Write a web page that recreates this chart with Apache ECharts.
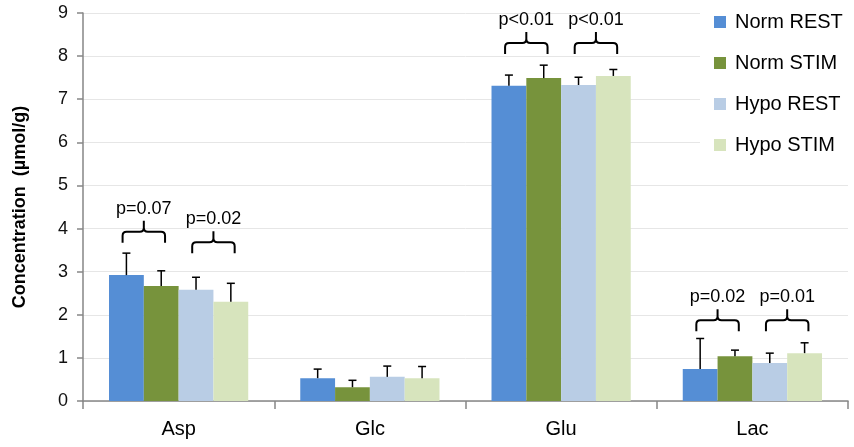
<!DOCTYPE html>
<html>
<head>
<meta charset="utf-8">
<script src="https://cdn.jsdelivr.net/npm/echarts@6/dist/echarts.min.js"></script>
<style>
html,body{margin:0;padding:0;background:#fff;}
#chart{width:854px;height:447px;}
</style>
</head>
<body>
<div id="chart"></div>
<script>
// ---- Data ----
const categories = ['Asp', 'Glc', 'Glu', 'Lac'];
const seriesNames = ['Norm REST', 'Norm STIM', 'Hypo REST', 'Hypo STIM'];
const normRest    = [2.92, 0.53, 7.31, 0.74];
const normRestErr = [0.51, 0.21, 0.25, 0.71];
const normStim    = [2.67, 0.32, 7.49, 1.04];
const normStimErr = [0.35, 0.16, 0.30, 0.14];
const hypoRest    = [2.58, 0.56, 7.33, 0.88];
const hypoRestErr = [0.29, 0.25, 0.18, 0.23];
const hypoStim    = [2.30, 0.53, 7.54, 1.11];
const hypoStimErr = [0.43, 0.27, 0.15, 0.24];
const yTicks = [0, 1, 2, 3, 4, 5, 6, 7, 8, 9];

// significance annotations
const braceCategory = [0, 0, 2, 2, 3, 3];
const bracePair     = [0, 1, 0, 1, 0, 1];
const braceLabel    = ['p=0.07', 'p=0.02', 'p<0.01', 'p<0.01', 'p=0.02', 'p=0.01'];
const braceLevel    = [3.67, 3.43, 8.05, 8.05, 1.62, 1.62];

// ---- Style ----
const colors = ['#558ED5', '#77933C', '#B9CDE5', '#D7E4BD'];
const BAR_FRAC = 0.182;
const FONT = '"Liberation Sans", Arial, sans-serif';

const values = [normRest, normStim, hypoRest, hypoStim];
const errs = [normRestErr, normStimErr, hypoRestErr, hypoStimErr];

const chart = echarts.init(document.getElementById('chart'), null, {renderer: 'canvas'});

const barSeries = seriesNames.map((name, i) => ({
  name: name,
  type: 'bar',
  data: values[i],
  barWidth: (BAR_FRAC * 100) + '%',
  barGap: '0%',
  itemStyle: {color: colors[i]},
  z: 2
}));

const errData = [];
values.forEach((arr, s) => arr.forEach((v, c) => errData.push([c, v, errs[s][c], s])));

const errSeries = {
  type: 'custom',
  data: errData,
  encode: {x: 0, y: 1},
  z: 3,
  silent: true,
  renderItem: function (params, api) {
    const c = api.value(0), v = api.value(1), e = api.value(2), s = api.value(3);
    const band = api.size([1, 0])[0];
    const bw = band * BAR_FRAC;
    const base = api.coord([c, v]);
    const top = api.coord([c, v + e]);
    const x = base[0] + (s - 1.5) * bw;
    const cap = 4;
    const st = {stroke: '#000', lineWidth: 1.5, fill: null};
    return {
      type: 'group',
      children: [
        {type: 'line', shape: {x1: x, y1: base[1], x2: x, y2: top[1]}, style: st},
        {type: 'line', shape: {x1: x - cap, y1: top[1], x2: x + cap, y2: top[1]}, style: st}
      ]
    };
  }
};

const braceData = braceCategory.map((c, i) => [c, braceLevel[i], bracePair[i], i]);

const braceSeries = {
  type: 'custom',
  data: braceData,
  encode: {x: 0, y: 1},
  z: 4,
  silent: true,
  renderItem: function (params, api) {
    const c = api.value(0), lvl = api.value(1), pair = api.value(2), idx = api.value(3);
    const band = api.size([1, 0])[0];
    const bw = band * BAR_FRAC;
    const p = api.coord([c, lvl]);
    const xc = p[0] + (pair === 0 ? -bw : bw);
    const half = bw * 0.61;
    const x1 = xc - half, x2 = xc + half;
    const yb = p[1];
    const h = 22;
    const ym = yb - h / 2;
    const yt = yb - h;
    const r = 4;
    const d = 'M' + x1 + ' ' + yb + ' L' + x1 + ' ' + (ym + r) +
      ' Q' + x1 + ' ' + ym + ' ' + (x1 + r) + ' ' + ym +
      ' L' + (xc - r) + ' ' + ym +
      ' Q' + xc + ' ' + ym + ' ' + xc + ' ' + (ym - r) +
      ' L' + xc + ' ' + yt +
      ' M' + xc + ' ' + (ym - r) +
      ' Q' + xc + ' ' + ym + ' ' + (xc + r) + ' ' + ym +
      ' L' + (x2 - r) + ' ' + ym +
      ' Q' + x2 + ' ' + ym + ' ' + x2 + ' ' + (ym + r) +
      ' L' + x2 + ' ' + yb;
    return {
      type: 'group',
      children: [
        {type: 'path', shape: {pathData: d}, style: {stroke: '#000', lineWidth: 2, fill: null}},
        {type: 'text', x: xc, y: yt - 12,
         style: {text: braceLabel[idx], x: 0, y: 0, fill: '#000', font: '18px ' + FONT,
                 textAlign: 'center', textVerticalAlign: 'middle', align: 'center', verticalAlign: 'middle'}}
      ]
    };
  }
};

const option = {
  animation: false,
  backgroundColor: '#fff',
  textStyle: {fontFamily: FONT},
  grid: {left: 83, right: 6, top: 13, bottom: 46, containLabel: false},
  legend: {
    data: seriesNames,
    orient: 'vertical',
    left: 700,
    top: 0,
    padding: [11, 10, 10, 14],
    backgroundColor: '#fff',
    icon: 'rect',
    itemWidth: 12,
    itemHeight: 12,
    itemGap: 19,
    z: 10,
    textStyle: {fontSize: 20, color: '#000', fontFamily: FONT, lineHeight: 22, padding: [0, 0, 0, 4]}
  },
  xAxis: {
    type: 'category',
    data: categories,
    axisLine: {lineStyle: {color: '#868686', width: 1.5}},
    axisTick: {show: true, length: 8, interval: 0, lineStyle: {color: '#868686', width: 1.5}},
    axisLabel: {fontSize: 20, color: '#000', margin: 18, fontFamily: FONT},
    splitLine: {show: false}
  },
  yAxis: {
    type: 'value',
    min: yTicks[0],
    max: yTicks[yTicks.length - 1],
    interval: 1,
    name: 'Concentration  (µmol/g)',
    nameLocation: 'middle',
    nameGap: 54,
    nameTextStyle: {fontSize: 18, fontWeight: 'bold', color: '#000', fontFamily: FONT},
    axisLine: {show: true, lineStyle: {color: '#868686', width: 1.5}},
    axisTick: {show: true, length: 6, lineStyle: {color: '#868686', width: 1.5}},
    axisLabel: {fontSize: 18, color: '#111', margin: 15, fontFamily: FONT},
    splitLine: {lineStyle: {color: '#e6e6e6', width: 1}}
  },
  series: barSeries.concat([errSeries, braceSeries])
};

chart.setOption(option);
</script>
</body>
</html>
